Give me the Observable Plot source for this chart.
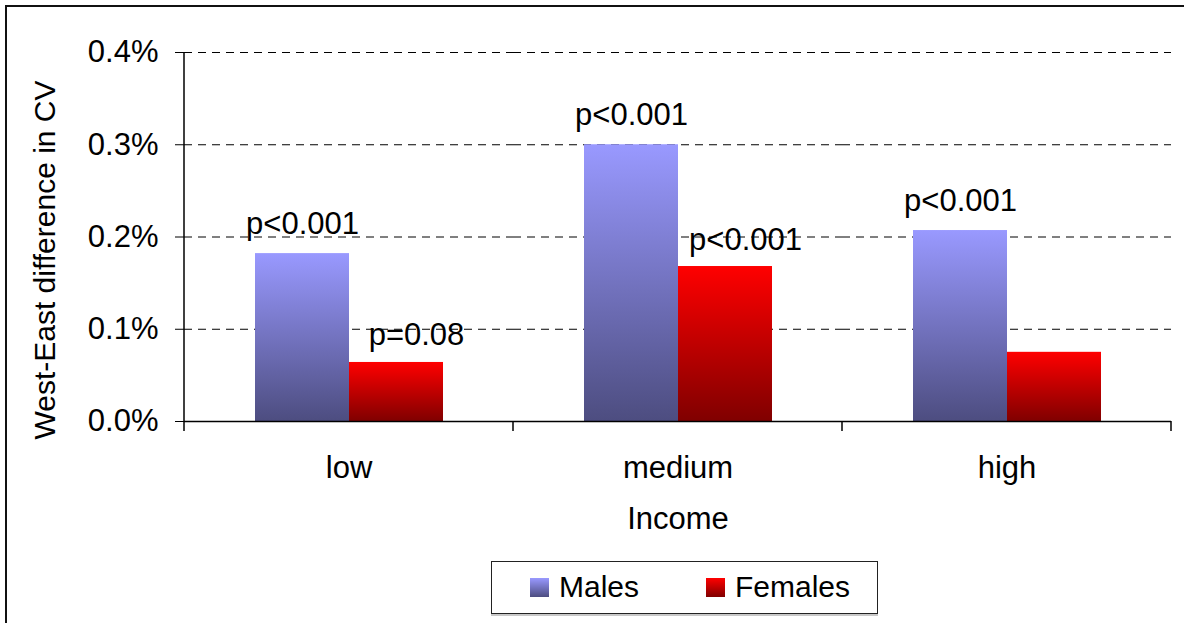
<!DOCTYPE html>
<html>
<head>
<meta charset="utf-8">
<script src="https://cdn.jsdelivr.net/npm/d3@7"></script>
<script src="https://cdn.jsdelivr.net/npm/@observablehq/plot@0.6"></script>
<style>
  html, body { margin: 0; padding: 0; background: #fff; }
  body { font-family: "Liberation Sans", Arial, sans-serif; color: #000; }
  #wrap { position: relative; width: 1184px; height: 623px; overflow: hidden; }
  #frame { position: absolute; left: 5px; top: 5px; width: 1180px; height: 700px;
           border-left: 2px solid #111; border-top: 2px solid #111; box-sizing: border-box; }
  #chart { position: absolute; left: 0; top: 0; }
  #ytitle { position: absolute; left: 45px; top: 260px; white-space: nowrap;
            font-size: 30px; transform: translate(-50%, -50%) rotate(-90deg); }
  #legend { position: absolute; left: 491px; top: 561px; width: 387px; height: 53px;
            box-sizing: border-box; border: 1.5px solid #222; background: #fff;
            box-shadow: 0 2px 0 #c8c8c8; font-size: 30px; }
  .item { position: absolute; top: 0; height: 50px; display: flex; align-items: center; }
  .sw { width: 19px; height: 19px; margin-right: 10px; }
</style>
</head>
<body>
<div id="wrap">
  <div id="frame"></div>
  <div id="chart"></div>
  <div id="ytitle">West-East difference in CV</div>
  <div id="legend">
    <div class="item" style="left:38px"><div class="sw" style="background:linear-gradient(#9999ff,#4d4d80)"></div>Males</div>
    <div class="item" style="left:214px"><div class="sw" style="background:linear-gradient(#ff0000,#800000)"></div>Females</div>
  </div>
</div>
<script>
// West-East difference in coefficient of variation, by income group and sex
const incomes = ["low", "medium", "high"];
const series = ["Males", "Females"];
const males = [0.00182, 0.00300, 0.00207];
const females = [0.00064, 0.00168, 0.00075];
const malesP = ["p<0.001", "p<0.001", "p<0.001"];
const femalesP = ["p=0.08", "p<0.001", ""];
const yTicks = [0, 0.001, 0.002, 0.003, 0.004];

const rows = incomes.flatMap((income, i) => [
  {income, sex: "Males", value: males[i], p: malesP[i]},
  {income, sex: "Females", value: females[i], p: femalesP[i]}
]);
const maleRows = rows.filter(d => d.sex === "Males");
const femaleRows = rows.filter(d => d.sex === "Females");

const chart = Plot.plot({
  width: 1184,
  height: 623,
  marginLeft: 183,
  marginRight: 13,
  marginTop: 52,
  marginBottom: 202,
  style: {fontFamily: "'Liberation Sans', Arial, sans-serif", fontSize: "31px", color: "#000", background: "transparent", overflow: "visible"},
  fx: {domain: incomes, padding: 0},
  x: {domain: series, paddingInner: 0, paddingOuter: 0.742, axis: null},
  y: {domain: [0, 0.004], axis: null},
  marks: [
    Plot.ruleY(yTicks.slice(1), {stroke: "#000", strokeWidth: 1, strokeDasharray: "8,6"}),
    Plot.barY(maleRows, {fx: "income", x: "sex", y: "value", fill: "url(#gradMales)"}),
    Plot.barY(femaleRows, {fx: "income", x: "sex", y: "value", fill: "url(#gradFemales)"}),
    Plot.ruleY([0], {stroke: "#000", strokeWidth: 1.5}),
    Plot.text(maleRows, {fx: "income", x: "sex", y: "value", text: "p", lineAnchor: "bottom", dy: -20, fontSize: 31}),
    Plot.text(femaleRows, {fx: "income", x: "sex", y: "value", text: "p", lineAnchor: "bottom", dy: -17, dx: 20, fontSize: 31}),
    Plot.axisY(yTicks, {tickFormat: d3.format(".1%"), tickSize: 9, tickPadding: 17, label: null, fontSize: 31}),
    Plot.axisFx({anchor: "bottom", tickSize: 0, tickPadding: 34, label: "Income", labelAnchor: "center", labelOffset: 107, labelArrow: "none", fontSize: 31})
  ]
});
document.getElementById("chart").appendChild(chart);

// Bar gradients (light at the top, dark at the bottom of each bar)
const svg = d3.select(chart);
const defs = svg.insert("defs", ":first-child");
[["gradMales", "#9999ff", "#4d4d80"], ["gradFemales", "#ff0000", "#800000"]].forEach(([id, top, bottom]) => {
  const g = defs.append("linearGradient").attr("id", id).attr("x1", 0).attr("y1", 0).attr("x2", 0).attr("y2", 1);
  g.append("stop").attr("offset", 0).attr("stop-color", top);
  g.append("stop").attr("offset", 1).attr("stop-color", bottom);
});

// Value axis line and category separator ticks, placed with the chart's scales
const fx = chart.scale("fx"), y = chart.scale("y");
const y0 = y.apply(0), yTop = y.apply(yTicks[yTicks.length - 1]);
const edges = incomes.map(d => fx.apply(d)).concat(fx.apply(incomes[incomes.length - 1]) + fx.bandwidth);
const deco = svg.append("g").attr("stroke", "#000").attr("stroke-width", 1.5);
deco.append("line").attr("x1", edges[0]).attr("x2", edges[0]).attr("y1", yTop).attr("y2", y0);
edges.forEach(x => deco.append("line").attr("x1", x).attr("x2", x).attr("y1", y0).attr("y2", y0 + 10));
</script>
</body>
</html>
